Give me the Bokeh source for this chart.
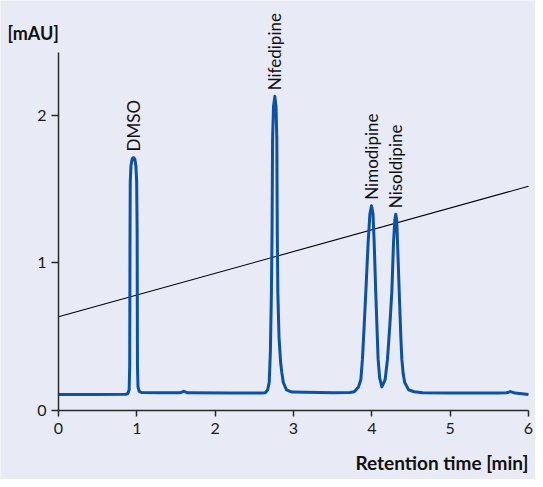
import math
from bokeh.plotting import figure
from bokeh.models import FixedTicker, ColumnDataSource, Range1d, LabelSet, Label
from bokeh.embed import file_html
from bokeh.resources import INLINE
from bokeh.core.properties import value

# ---- data ----
time_min = [0.0, 0.4, 0.86, 0.885, 0.902, 0.909, 0.913, 0.916, 0.925, 0.94, 0.957,
            0.974, 0.988, 0.998, 1.004, 1.008, 1.015, 1.03, 1.06, 1.3, 1.55, 1.6, 1.65,
            2.2, 2.6, 2.64, 2.67, 2.69, 2.705, 2.718, 2.726, 2.733, 2.745, 2.762,
            2.777, 2.787, 2.793, 2.80, 2.815, 2.835, 2.85, 2.87, 2.91, 2.98,
            3.5, 3.72, 3.775, 3.83, 3.86, 3.88, 3.90, 3.923, 3.953, 3.975, 3.996,
            4.015, 4.03, 4.05, 4.07, 4.08, 4.10, 4.128, 4.155, 4.17, 4.20, 4.23,
            4.255, 4.277, 4.293, 4.306, 4.318, 4.328, 4.35, 4.37, 4.383, 4.40,
            4.42, 4.47, 4.54, 4.65, 5.0, 5.6, 5.72, 5.77, 5.83, 6.0]
signal_mau = [0.108, 0.108, 0.11, 0.115, 0.14, 0.3, 1.2, 1.55, 1.66, 1.705, 1.715,
              1.705, 1.66, 1.55, 1.2, 0.3, 0.16, 0.13, 0.122, 0.12, 0.12, 0.13, 0.12,
              0.118, 0.118, 0.12, 0.14, 0.19, 0.4, 0.8, 1.2, 1.84, 2.06, 2.13,
              2.06, 1.84, 1.2, 0.8, 0.5, 0.33, 0.26, 0.19, 0.14, 0.125,
              0.12, 0.122, 0.127, 0.16, 0.21, 0.348, 0.55, 0.8, 1.139, 1.33, 1.388,
              1.33, 1.139, 0.8, 0.5, 0.348, 0.22, 0.16, 0.19, 0.21, 0.348, 0.58,
              0.8, 1.139, 1.29, 1.331, 1.29, 1.139, 0.8, 0.5, 0.348, 0.25,
              0.19, 0.14, 0.127, 0.12, 0.118, 0.118, 0.12, 0.128, 0.118, 0.108]

gradient_time = [0.0, 6.0]
gradient_value = [0.635, 1.52]

peak_names = ["DMSO", "Nifedipine", "Nimodipine", "Nisoldipine"]
peak_times = [0.957, 2.762, 3.996, 4.306]
peak_heights = [1.715, 2.13, 1.388, 1.331]

x_ticks = [0, 1, 2, 3, 4, 5, 6]
y_ticks = [0, 1, 2]
x_axis_span = (0, 6)
y_axis_span = (0, 2.427)
y_unit_label = "[mAU]"
x_unit_label = "Retention time [min]"

# ---- styling / layout ----
BG = "#e8eaf5"
TRACE = "#0b52a2"
AXIS = "#2a2a2a"
FONT = "Lato"
W, H = 535, 479
LEFT_PX, RIGHT_PX, TOP_PX, BOTTOM_PX = 58, 7, 52, 69   # axis box inside the figure

# The frame covers the whole figure so that the rotated peak names, the unit
# labels and the tick labels are never clipped; axes sit at fixed locations
# and are limited by bounds.
px_per_x = (W - LEFT_PX - RIGHT_PX) / (x_axis_span[1] - x_axis_span[0])
px_per_y = (H - TOP_PX - BOTTOM_PX) / (y_axis_span[1] - y_axis_span[0])
x_start = x_axis_span[0] - LEFT_PX / px_per_x
x_end = x_axis_span[1] + RIGHT_PX / px_per_x
y_end = y_axis_span[1] + TOP_PX / px_per_y
y_start = y_axis_span[0] - BOTTOM_PX / px_per_y

p = figure(width=W, height=H, output_backend="svg", toolbar_location=None,
           x_range=Range1d(x_start, x_end), y_range=Range1d(y_start, y_end),
           min_border_left=0, min_border_right=0, min_border_top=0,
           min_border_bottom=0)
p.background_fill_color = BG
p.border_fill_color = BG
p.outline_line_color = None
p.grid.visible = False

unit_y = Label(x=x_start, y=y_end, x_offset=7, y_offset=-32, text=y_unit_label,
               text_font=FONT, text_font_size="18px", text_font_style="bold",
               text_color="#111111", text_baseline="alphabetic", text_align="left")
p.add_layout(unit_y)

unit_x = Label(x=x_axis_span[1], y=y_axis_span[0], y_offset=-52, text=x_unit_label,
               text_font=FONT, text_font_size="19px", text_font_style="bold",
               text_color="#111111", text_baseline="middle", text_align="right")
p.add_layout(unit_x)

for ax in (p.xaxis[0], p.yaxis[0]):
    ax.axis_line_color = AXIS
    ax.axis_line_width = 1.5
    ax.major_tick_line_color = AXIS
    ax.major_tick_line_width = 1.5
    ax.major_tick_in = 0
    ax.minor_tick_line_color = None
    ax.major_label_text_font = FONT
    ax.major_label_text_font_size = "16px"
    ax.major_label_text_color = "#1a1a1a"
p.xaxis[0].ticker = FixedTicker(ticks=x_ticks)
p.yaxis[0].ticker = FixedTicker(ticks=y_ticks)
p.xaxis[0].bounds = x_axis_span
p.yaxis[0].bounds = y_axis_span
p.yaxis[0].fixed_location = x_axis_span[0]
p.xaxis[0].fixed_location = y_axis_span[0]
p.xaxis[0].major_tick_out = 6
p.yaxis[0].major_tick_out = 7
p.xaxis[0].major_label_standoff = 6
p.yaxis[0].major_label_standoff = 5

p.line(gradient_time, gradient_value, line_color="#000000", line_width=1.1)
p.line(time_min, signal_mau, line_color=TRACE, line_width=3, line_join="round")

src = ColumnDataSource(dict(x=peak_times, y=peak_heights, t=peak_names))
labels = LabelSet(x="x", y="y", text="t", source=src, angle=math.pi / 2,
                  text_align="left", text_baseline="middle", y_offset=6,
                  text_font=value(FONT), text_font_size="17px", text_color="#111111")
p.add_layout(labels)

open("out.html", "w").write(file_html(p, INLINE))
